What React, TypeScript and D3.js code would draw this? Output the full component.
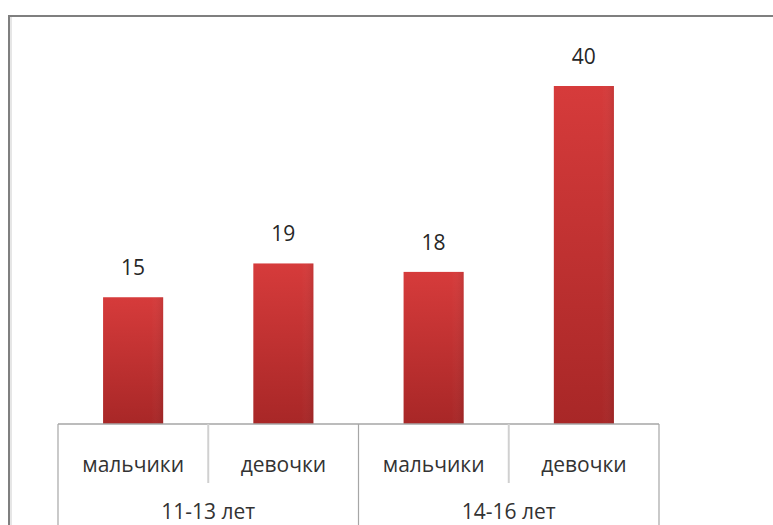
import * as d3 from "d3";

const categories = ["мальчики", "девочки", "мальчики", "девочки"];
const groups = ["11-13 лет", "14-16 лет"];
const values = [15, 19, 18, 40];

const W = 773;
const H = 525;
const axisY = 424;
const left = 58;
const right = 659;

export default function App() {
  const x = d3.scaleBand<number>().domain(d3.range(values.length)).range([left, right]).paddingInner(0.6).paddingOuter(0.3);
  const y = d3.scaleLinear().domain([0, 40]).range([axisY, 86]);
  const step = x.step();
  const catEdge = (i: number) => left + i * ((right - left) / values.length);
  const font = "'Open Sans', sans-serif";

  return (
    <div style={{ position: "fixed", left: 0, top: 0 }}>
      <svg width={W} height={H} viewBox={`0 0 ${W} ${H}`}>
        <defs>
          <linearGradient id="barGrad" x1="0" y1="0" x2="0" y2="1">
            <stop offset="0%" stopColor="#d63b3b" />
            <stop offset="100%" stopColor="#a82727" />
          </linearGradient>
          <linearGradient id="barSide" x1="0" y1="0" x2="1" y2="0">
            <stop offset="0%" stopColor="#ffffff" stopOpacity={0} />
            <stop offset="80%" stopColor="#ffffff" stopOpacity={0} />
            <stop offset="100%" stopColor="#000000" stopOpacity={0.08} />
          </linearGradient>
        </defs>
        <rect x={0} y={0} width={W} height={H} fill="#fff" />
        <rect x={9} y={16} width={W + 20} height={H + 20} fill="#fff" stroke="#7f7f7f" strokeWidth={2} />
        <line x1={11} x2={11} y1={17} y2={H} stroke="#e6e6e6" strokeWidth={2} />

        {values.map((v, i) => (
          <g key={i}>
            <rect x={x(i)} y={y(v)} width={x.bandwidth()} height={axisY - y(v)} fill="url(#barGrad)" />
            <rect x={x(i)} y={y(v)} width={x.bandwidth()} height={axisY - y(v)} fill="url(#barSide)" />
            <text
              x={(x(i) ?? 0) + x.bandwidth() / 2}
              y={y(v) - 22}
              textAnchor="middle"
              fontFamily={font}
              fontSize={21}
              fill="#262626"
            >
              {v}
            </text>
            <text
              x={(x(i) ?? 0) + x.bandwidth() / 2}
              y={472}
              textAnchor="middle"
              fontFamily={font}
              fontSize={21}
              fill="#333"
            >
              {categories[i]}
            </text>
          </g>
        ))}

        <line x1={left} x2={right} y1={axisY} y2={axisY} stroke="#a6a6a6" strokeWidth={1.5} />
        {d3.range(values.length + 1).map((i) => {
          const gx = catEdge(i);
          const full = i % 2 === 0;
          return (
            <line
              key={i}
              x1={gx}
              x2={gx}
              y1={axisY}
              y2={full ? H : 483}
              stroke={full ? "#a6a6a6" : "#d0d0d0"}
              strokeWidth={full ? 1.2 : 2}
            />
          );
        })}
        {groups.map((g, i) => (
          <text
            key={g}
            x={catEdge(i * 2) + step}
            y={519}
            textAnchor="middle"
            fontFamily={font}
            fontSize={21}
            fill="#333"
          >
            {g}
          </text>
        ))}
      </svg>
    </div>
  );
}
